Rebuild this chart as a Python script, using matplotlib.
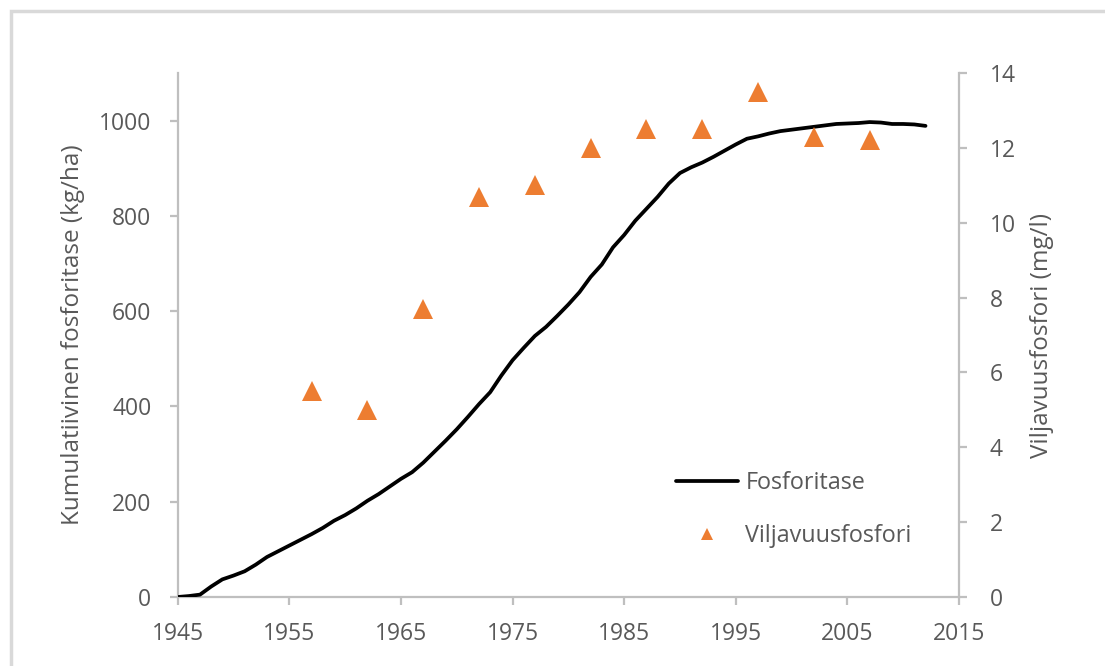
import matplotlib.pyplot as plt
from matplotlib.patches import Rectangle

# cumulative phosphorus fertilisation (kg/ha), yearly
years = list(range(1945, 2013))
fosforitase = [0, 2, 5, 22, 37, 45, 54, 68, 84, 96,
               108, 120, 132, 145, 160, 172, 186, 202, 216, 232,
               248, 262, 282, 305, 328, 352, 378, 405, 430, 465,
               497, 523, 548, 567, 590, 614, 640, 672, 698, 734,
               760, 790, 815, 840, 868, 890, 902, 912, 924, 937,
               950, 962, 967, 973, 978, 981, 984, 987, 990, 993,
               994, 995, 997, 996, 993, 993, 992, 989]

# soil test phosphorus (mg/l)
sample_years = [1957, 1962, 1967, 1972, 1977, 1982, 1987, 1992, 1997, 2002, 2007]
viljavuusfosfori = [5.5, 5.0, 7.7, 10.7, 11.0, 12.0, 12.5, 12.5, 13.5, 12.3, 12.2]

grey = '#595959'
axis_col = '#bfbfbf'
orange = '#ED7D31'

plt.rcParams['font.family'] = ['Open Sans', 'DejaVu Sans']

fig = plt.figure(figsize=(11.05, 6.66), dpi=100)
fig.patches.append(Rectangle((11 / 1105, -0.01), 1.02, 1 - 11 / 666 + 0.01,
                             transform=fig.transFigure, fill=False,
                             edgecolor='#d9d9d9', linewidth=2.5))

ax = fig.add_axes([177.7 / 1105, 1 - 597 / 666, (959 - 177.7) / 1105, (597 - 73) / 666])
ax2 = ax.twinx()

l1, = ax.plot(years, fosforitase, color='black', linewidth=2.7, label='Fosforitase',
              solid_capstyle='round', zorder=3)
l2, = ax2.plot(sample_years, viljavuusfosfori, linestyle='none', marker='^', markersize=14.5,
               color=orange, markeredgewidth=0, label='Viljavuusfosfori')

ax.set_xlim(1945, 2015)
ax.set_ylim(0, 1100)
ax2.set_ylim(0, 14)
ax.set_xticks(range(1945, 2016, 10))
ax.set_yticks(range(0, 1001, 200))
ax2.set_yticks(range(0, 15, 2))

for a in (ax, ax2):
    for s in a.spines.values():
        s.set_color(axis_col)
        s.set_linewidth(1.6)
    a.spines['top'].set_visible(False)
    a.tick_params(colors=axis_col, labelcolor=grey, labelsize=16.5, length=6, width=1.6)
ax.spines['right'].set_visible(False)
ax2.spines['left'].set_visible(False)
ax2.spines['bottom'].set_visible(False)
ax.tick_params(axis='y', pad=13)
ax.tick_params(axis='x', pad=12)
ax2.tick_params(axis='y', pad=16)

ax.set_ylabel('Kumulatiivinen fosforitase (kg/ha)', fontsize=17.5, color=grey, labelpad=10)
ax2.set_ylabel('Viljavuusfosfori (mg/l)', fontsize=17.5, color=grey, labelpad=10)

fig.legend(handles=[l1, l2], loc='upper left', bbox_to_anchor=(676 / 1105, 1 - 471 / 666),
           frameon=False, fontsize=16.8, labelcolor=grey, handlelength=2.67,
           handletextpad=0.3, labelspacing=1.25, markerscale=0.6,
           borderpad=0, borderaxespad=0)

fig.savefig('out.png', dpi=100)
